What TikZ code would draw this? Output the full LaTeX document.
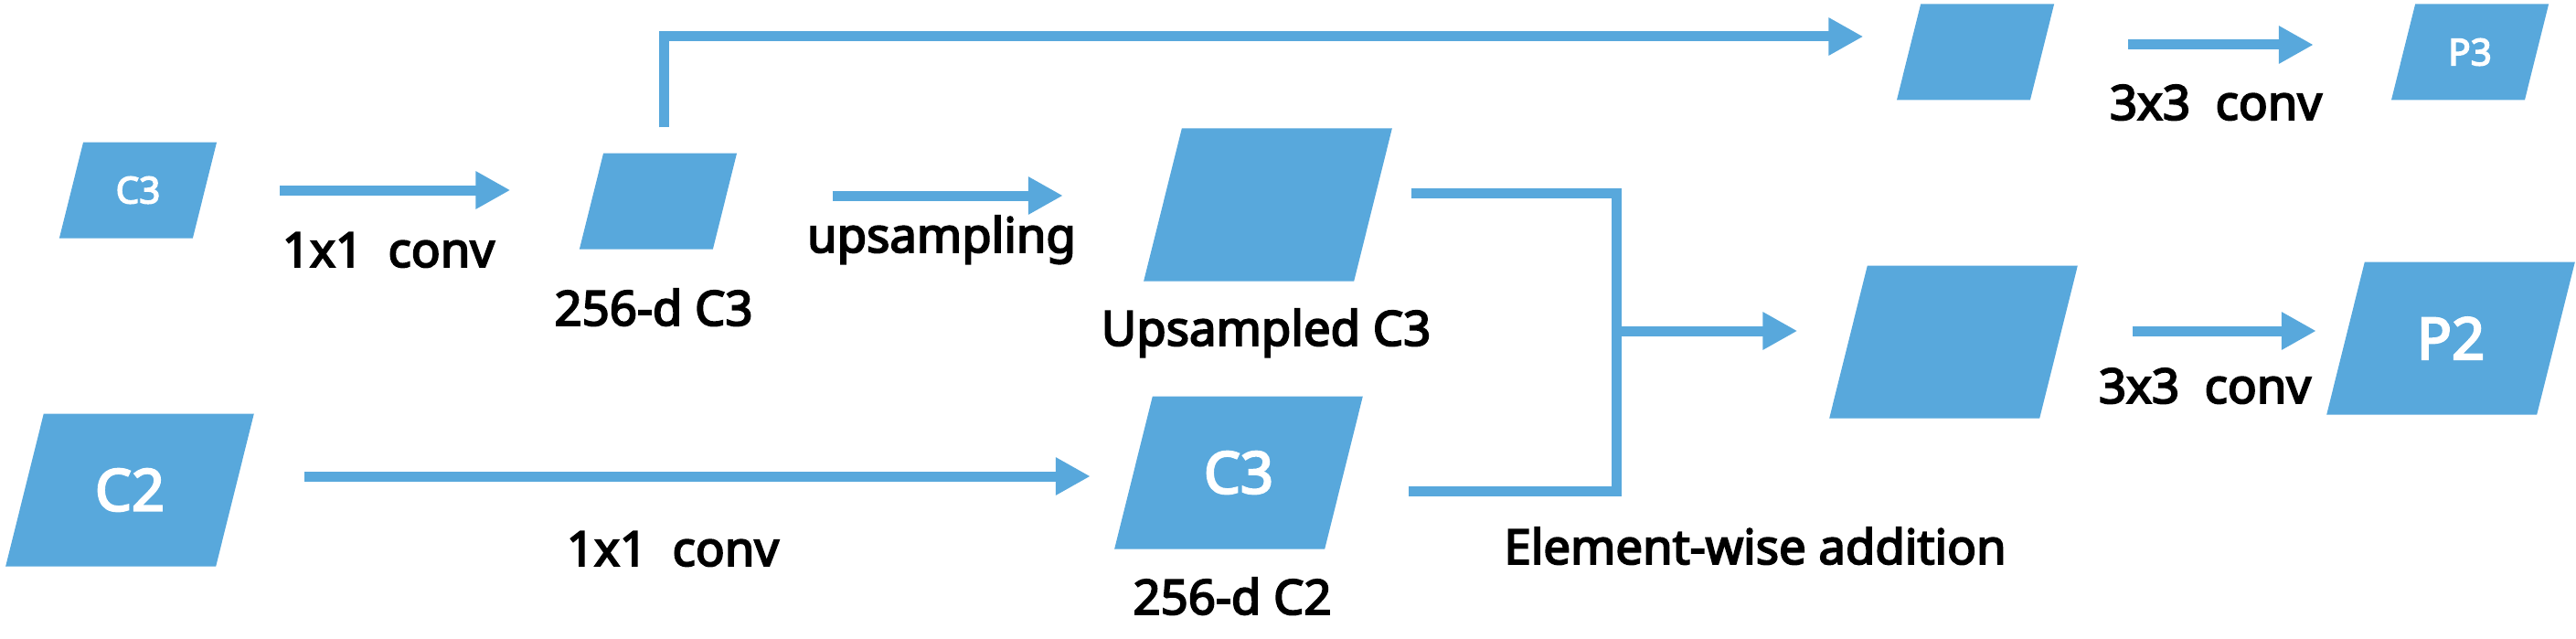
\documentclass[tikz,border=0pt]{standalone}
\usepackage{fontspec}
\setmainfont{Noto Sans}[AutoFakeBold=3.6]
\usepackage{xcolor}
\usepackage{tikz}
\usetikzlibrary{arrows.meta,positioning,shapes.geometric}
\definecolor{fmblue}{RGB}{88,168,220}

\begin{document}
\begin{tikzpicture}[
    fmap/.style={shape=trapezium,trapezium left angle=76,trapezium right angle=104,
        fill=fmblue,draw=none,minimum width=0pt,minimum height=0pt},
    fmsmall/.style={fmap,inner xsep=5.99mm,inner ysep=5.25mm,
        label={[text=white,font=\bfseries\fontsize{11.5}{13}\selectfont]center:#1}},
    fmlarge/.style={fmap,inner xsep=9.42mm,inner ysep=8.35mm,
        label={[text=white,font=\bfseries\fontsize{18}{21}\selectfont]center:#1}},
    lbl/.style={anchor=base,font=\bfseries\fontsize{15}{18}\selectfont},
    arrow/.style={-{Triangle[length=3.8mm,width=3.9mm]},line width=1.1mm,draw=fmblue},
    link/.style={line width=1.1mm,draw=fmblue}
]
\useasboundingbox (0,0) rectangle (28.18,6.98);
\node[fmsmall=C3] (c3) at (1.51,4.90) {};
\node[fmsmall=] (c3r) at (7.20,4.78) {};
\node[fmlarge=] (up) at (13.87,4.74) {};
\node[fmlarge=C2] (c2) at (1.42,1.62) {};
\node[fmlarge=C3] (c2r) at (13.55,1.81) {};
\node[fmsmall=] (lat) at (21.61,6.41) {};
\node[fmsmall=P3] (p3) at (27.02,6.41) {};
\node[fmlarge=] (sum) at (21.37,3.24) {};
\node[fmlarge=P2] (p2) at (26.81,3.28) {};
\coordinate (add) at (17.68,3.36);

\node[lbl] (conv1) at (4.25,4.06) {1x1\ \ conv};
\node[lbl] (c3rlbl) at (7.15,3.42) {256-d C3};
\node[lbl] (upslbl) at (10.30,4.22) {upsampling};
\node[lbl] (uplbl) at (13.85,3.20) {Upsampled C3};
\node[lbl] (conv2) at (7.36,0.79) {1x1\ \ conv};
\node[lbl] (c2rlbl) at (13.48,0.26) {256-d C2};
\node[lbl] (addlbl) at (19.20,0.81) {Element-wise addition};
\node[lbl] (conv3) at (24.24,5.67) {3x3\ \ conv};
\node[lbl] (conv4) at (24.12,2.57) {3x3\ \ conv};

\draw[arrow,shorten <=8.15mm,shorten >=8.8mm] (c3.east) -- (c3.east -| c3r.west);
\draw[arrow,shorten <=11.7mm,shorten >=10.85mm]
    ([yshift=0.6mm]c3r.east) -- ([yshift=0.6mm]c3r.east -| up.west);
\draw[arrow,shorten <=7.55mm,shorten >=4.65mm]
    ([yshift=1.5mm]c2.east) -- ([yshift=1.5mm]c2.east -| c2r.west);
\draw[arrow,shorten <=2.75mm,shorten >=4.9mm]
    ([xshift=0.6mm]c3r.north) |- ([yshift=1.7mm]lat.west);
\draw[link,shorten <=4.1mm] ([yshift=1.3mm]up.east) -| (add);
\draw[link,shorten <=7mm] ([yshift=-2mm]c2r.east) -| (add);
\draw[arrow,shorten >=5.5mm] (add) -- (add -| sum.west);
\draw[arrow,shorten <=9.35mm,shorten >=9.75mm]
    ([yshift=0.8mm]lat.east) -- ([yshift=0.8mm]lat.east -| p3.west);
\draw[arrow,shorten <=8mm,shorten >=3.15mm]
    ([yshift=1.2mm]sum.east) -- ([yshift=1.2mm]sum.east -| p2.west);
\end{tikzpicture}
\end{document}
